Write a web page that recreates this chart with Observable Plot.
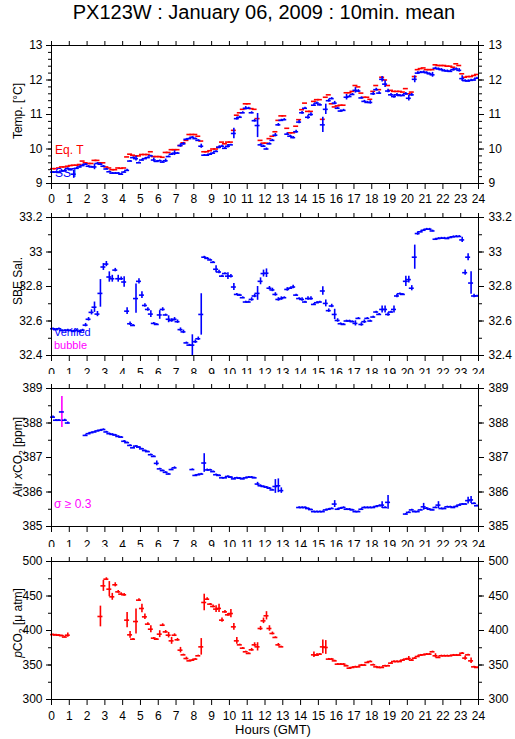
<!DOCTYPE html>
<html><head><meta charset="utf-8">
<script src="https://cdn.jsdelivr.net/npm/d3@7"></script>
<script src="https://cdn.jsdelivr.net/npm/@observablehq/plot@0.6"></script>
<style>
body{margin:0;background:#fff;font-family:"Liberation Sans",Arial,Helvetica,sans-serif;}
#wrap{position:relative;width:515px;height:739px;overflow:hidden;}
#title{position:absolute;left:0;top:2px;width:528px;text-align:center;font-size:20px;line-height:20px;color:#000;}
#xlab{position:absolute;left:0;top:723px;width:546px;text-align:center;font-size:13px;line-height:13px;color:#000;}
.panel{position:absolute;left:0;}
</style></head>
<body><div id="wrap"><div id="title">PX123W : January 06, 2009 : 10min. mean</div><div id="xlab">Hours (GMT)</div></div>
<script>
// ---- Data: 10-minute means, 6 slots per hour (rows = hours 0..23) ----
const hourTicks = d3.range(0, 25);
const sst = [
 9.33,9.33,9.32,9.36,9.37,9.43, 9.40,9.27,9.44,9.48,9.52,9.56, 9.50,9.48,9.48,9.58,9.56,9.50,
 9.42,9.34,9.30,9.30,9.30,9.27, 9.33,9.38,9.65,9.75,9.72,9.60, 9.68,9.72,9.75,9.80,9.68,9.64,
 9.66,9.62,9.66,9.78,9.85,9.88, 9.88,10.10,10.15,10.28,10.30,10.34, 10.30,10.25,10.08,9.82,9.82,9.85,
 9.88,9.93,10.05,10.08,10.02,10.08, 10.12,10.45,10.88,10.92,11.05,11.18, 11.18,11.05,10.82,10.68,10.12,10.08,
 10.00,10.15,10.25,10.40,10.70,10.83, 10.85,10.43,10.37,10.33,10.50,10.78, 11.05,11.18,10.92,11.00,11.27,11.33,
 11.28,10.70,11.15,11.40,11.46,11.33, 11.18,11.10,11.12,11.50,11.52,11.58, 11.70,11.68,11.48,11.38,11.35,11.35,
 11.60,11.72,11.62,12.02,11.88,11.68, 11.57,11.52,11.57,11.55,11.55,11.60, 11.47,11.57,12.02,12.20,12.22,12.23,
 12.21,12.18,12.15,12.34,12.32,12.30, 12.27,12.26,12.25,12.30,12.32,12.28, 12.04,11.98,11.97,11.99,12.00,12.05];
const sstSd = [
 .02,.02,.02,.02,.03,.03, .03,.12,.03,.03,.03,.02, .02,.02,.08,.03,.03,.02,
 .02,.02,.02,.02,.02,.02, .02,.03,.02,.02,.07,.02, .02,.02,.02,.02,.06,.02,
 .02,.02,.05,.02,.02,.07, .02,.05,.04,.02,.02,.02, .02,.02,.06,.02,.02,.02,
 .02,.02,.04,.03,.03,.05, .02,.15,.04,.03,.03,.05, .03,.03,.04,.35,.03,.03,
 .03,.03,.03,.05,.04,.03, .03,.04,.03,.03,.04,.05, .04,.03,.06,.05,.04,.03,
 .03,.22,.15,.04,.03,.05, .03,.03,.03,.08,.03,.03, .08,.04,.03,.03,.03,.05,
 .05,.04,.04,.08,.10,.05, .04,.05,.04,.03,.03,.04, .08,.04,.10,.04,.03,.03,
 .03,.03,.07,.03,.03,.03, .03,.03,.03,.04,.03,.05, .08,.03,.03,.03,.03,.03];
const eqT = [
 9.43,9.43,9.45,9.48,9.48,9.50, 9.52,9.53,9.53,9.55,9.65,9.60, 9.58,9.58,9.67,9.67,9.60,9.60,
 9.48,9.45,9.40,9.40,9.45,9.44, 9.45,9.77,9.85,9.82,9.80,9.80, 9.84,9.84,9.84,9.92,9.78,9.78,
 9.78,9.76,9.90,9.90,9.98,9.98, 9.98,10.10,10.18,10.25,10.42,10.42, 10.42,10.37,10.23,9.92,9.92,9.95,
 10.00,10.00,10.05,10.20,10.15,10.20, 10.20,10.54,10.98,11.05,11.15,11.31, 11.31,11.17,11.15,10.88,10.25,10.17,
 10.17,10.30,10.37,10.50,10.83,10.96, 10.96,10.60,10.47,10.47,10.66,10.85, 11.14,11.33,11.09,11.09,11.38,11.43,
 11.43,10.86,11.50,11.57,11.31,11.22, 11.25,11.27,11.27,11.63,11.63,11.67, 11.84,11.80,11.62,11.50,11.50,11.44,
 11.67,11.84,11.72,12.08,12.00,11.84, 11.70,11.67,11.67,11.67,11.65,11.75, 11.60,11.65,12.10,12.30,12.33,12.35,
 12.30,12.30,12.30,12.44,12.42,12.42, 12.42,12.40,12.40,12.37,12.47,12.42, 12.18,12.08,12.10,12.10,12.13,12.16];
const sal = [
 32.555,32.550,32.555,32.545,32.545,32.547, 32.545,32.540,32.547,32.540,32.547,32.576, 32.610,32.650,32.680,32.640,32.760,32.913,
 32.930,32.855,32.845,32.895,32.845,32.845, 32.826,32.657,32.584,32.574,32.730,32.830, 32.750,32.690,32.667,32.640,32.586,32.580,
 32.635,32.667,32.635,32.610,32.603,32.610, 32.596,32.550,32.537,32.473,32.460,32.460, 32.480,32.497,32.638,32.970,32.963,32.954,
 32.940,32.900,32.884,32.860,32.875,32.860, 32.860,32.797,32.754,32.750,32.735,32.710, 32.710,32.725,32.745,32.760,32.830,32.875,
 32.877,32.790,32.780,32.754,32.725,32.730, 32.735,32.783,32.790,32.797,32.750,32.730, 32.725,32.710,32.730,32.730,32.696,32.706,
 32.710,32.774,32.702,32.660,32.687,32.638, 32.603,32.584,32.580,32.600,32.600,32.596, 32.586,32.615,32.580,32.596,32.615,32.600,
 32.623,32.652,32.638,32.667,32.667,32.638, 32.652,32.667,32.745,32.758,32.754,32.830, 32.840,32.790,32.970,33.107,33.117,33.126,
 33.132,33.132,33.122,33.074,33.078,33.080, 33.080,33.078,33.084,33.088,33.090,33.090, 33.070,32.880,32.970,32.820,32.745,32.745];
const salSd = [
 .005,.005,.005,.005,.005,.005, .005,.005,.005,.005,.005,.01, .01,.015,.03,.015,.08,.02,
 .015,.03,.02,.01,.02,.01, .03,.02,.01,.005,.085,.015, .02,.01,.01,.02,.005,.005,
 .025,.01,.005,.02,.01,.01, .01,.01,.01,.005,.005,.06, .01,.01,.12,.005,.005,.005,
 .005,.02,.01,.005,.005,.02, .01,.02,.005,.005,.005,.005, .005,.01,.01,.04,.02,.02,
 .025,.01,.01,.01,.01,.01, .005,.01,.005,.01,.005,.005, .01,.005,.01,.01,.005,.005,
 .005,.025,.02,.01,.01,.03, .01,.005,.005,.005,.005,.005, .015,.005,.01,.01,.005,.005,
 .005,.005,.005,.02,.02,.01, .005,.02,.01,.005,.005,.03, .02,.015,.07,.01,.005,.005,
 .005,.005,.005,.005,.005,.005, .005,.005,.005,.005,.005,.005, .015,.015,.02,.065,.01,.005];
const air = [
 388.17,388.08,388.08,388.32,388.08,388.00, null,null,null,null,null,387.64, 387.69,387.72,387.74,387.77,387.79,387.81,
 387.74,387.69,387.67,387.65,387.61,387.59, 387.47,387.43,387.35,387.28,387.33,387.30, 387.25,387.20,387.17,387.08,387.03,386.83,
 386.67,386.62,386.57,386.52,386.65,386.70, null,null,null,null,null,386.65, 386.48,386.50,386.52,386.84,386.64,386.64,
 386.59,386.50,386.48,386.41,386.41,386.45, 386.43,386.38,386.41,386.40,386.38,386.41, 386.43,386.43,386.41,386.23,386.18,386.16,
 386.14,386.11,386.06,386.16,386.18,386.04, null,null,null,null,null,385.55, 385.55,385.55,385.52,385.49,385.43,385.43,
 385.43,385.43,385.48,385.50,385.52,385.65, 385.50,385.53,385.55,385.50,385.50,385.48, 385.43,385.43,385.50,385.55,385.55,385.55,
 385.55,385.58,385.60,385.62,385.55,385.70, null,null,null,null,null,385.36, 385.41,385.48,385.43,385.43,385.48,385.57,
 385.53,385.50,385.48,385.55,385.62,385.52, 385.52,385.57,385.57,385.55,385.58,385.62, 385.65,385.65,385.75,385.77,385.67,385.60];
const airSd = [
 .03,.02,.02,.45,.03,.03, 0,0,0,0,0,.02, .02,.02,.02,.02,.02,.02,
 .02,.02,.02,.02,.02,.02, .02,.02,.02,.02,.02,.02, .02,.02,.02,.02,.02,.07,
 .02,.02,.02,.02,.02,.03, 0,0,0,0,0,.02, .02,.02,.02,.27,.03,.02,
 .02,.02,.02,.02,.02,.02, .02,.02,.02,.02,.02,.02, .02,.02,.02,.05,.03,.02,
 .02,.02,.02,.20,.20,.08, 0,0,0,0,0,.02, .02,.02,.02,.02,.02,.02,
 .02,.02,.02,.02,.02,.10, .02,.02,.02,.02,.02,.02, .02,.02,.02,.02,.02,.02,
 .02,.02,.02,.10,.02,.20, 0,0,0,0,0,.02, .02,.02,.02,.02,.02,.10,
 .02,.02,.02,.02,.10,.02, .02,.02,.02,.02,.02,.02, .02,.02,.10,.10,.02,.02];
const pco2 = [
 394.0,393.5,393.2,392.5,390.5,393.2, null,null,null,null,null,null, null,null,null,null,420.3,464.7,
 474.4,459.9,448.8,466.2,456.0,452.7, 451.7,415.0,393.7,387.4,413.0,444.0, 431.9,419.8,409.2,401.9,388.9,387.4,
 394.7,407.7,398.0,393.2,385.0,393.2, 386.5,371.5,364.7,359.4,356.0,357.0, 358.5,363.3,376.3,440.6,445.4,438.2,
 434.8,431.0,432.0,415.0,427.0,422.7, 424.6,405.3,385.0,379.2,374.4,369.1, 366.7,372.0,379.2,376.3,402.9,414.0,
 421.3,402.9,395.7,389.9,379.2,376.3, null,null,null,null,null,null, null,null,null,null,364.7,364.3,
 365.7,376.3,375.4,358.5,358.5,356.0, 351.2,351.2,351.2,348.8,345.4,346.4, 347.3,347.3,349.8,349.8,353.6,355.0,
 350.2,347.3,346.4,346.4,348.8,348.8, 352.7,355.0,355.0,355.0,357.0,358.5, 359.4,357.0,359.9,362.3,364.3,364.7,
 365.7,365.7,369.1,363.3,360.9,363.3, 363.3,363.3,363.3,364.3,364.3,364.3, 367.1,360.0,364.7,356.0,347.3,346.4];
const pco2Sd = [
 1,1,1,1,1,3, 0,0,0,0,0,0, 0,0,0,0,15,8,
 2,11,5,3,2,2, 2,11,5,1,18,2, 6,4,2,5,1,1,
 5,2,2,4,5,2, 2,4,1,2,1,1, 1,1,12,12,2,1,
 2,5,6,3,2,2, 6,5,5,1,1,1, 1,2,3,6,3,4,
 6,4,2,1,2,1, 0,0,0,0,0,0, 0,0,0,0,4,2,
 1,10,10,1,1,1, 1,1,1,1,1,1, 1,1,1,1,1,1,
 1,1,1,1,1,1, 1,1,1,1,1,1, 3,1,1,1,1,1,
 1,1,1,3,1,1, 1,1,1,1,1,1, 1,3,1,4,1,1];

const tempTicks = [9,10,11,12,13], tempMinor = d3.range(9, 13.001, 0.2);
const salTicks = [32.4,32.6,32.8,33,33.2], salMinor = d3.range(32.4, 33.201, 0.1);
const airTicks = [385,386,387,388,389], airMinor = d3.range(385, 389.001, 0.5);
const pcoTicks = [300,350,400,450,500], pcoMinor = d3.range(300, 500.01, 25);

// ---- helpers ----
const slotHours = d3.range(144).map(i => (i + 0.5) / 6);
const rows = (vals, sds) => slotHours.map((h, i) => ({h, v: vals[i], s: sds ? sds[i] : 0})).filter(d => d.v != null);
const HALF = 0.14, SW = 1.6;
const BLUE = "#0000ff", RED = "#ff0000", MAG = "#ff00ff";
function crosses(data, color, sdColor, bars = true) {
  const m = [];
  if (bars) m.push(Plot.ruleX(data, {x: "h", y1: d => d.v - d.s, y2: d => d.v + d.s, stroke: sdColor || color, strokeWidth: SW}));
  m.push(Plot.ruleY(data, {y: "v", x1: d => d.h - HALF, x2: d => d.h + HALF, stroke: color, strokeWidth: SW}));
  return m;
}
const FONT = '"Liberation Sans", Arial, Helvetica, sans-serif';
function panel({top, domain, ticks, minor, marks, pad, extraBottom = 0}) {
  const svg = Plot.plot({
    width: 515, height: 172 + extraBottom,
    marginLeft: 51, marginRight: 37, marginTop: 14, marginBottom: 20 + extraBottom,
    x: {domain: [0, 24]}, y: {domain},
    style: {fontFamily: FONT, fontSize: "12px", color: "black", background: "white", overflow: "visible"},
    marks: [
      ...marks,
      Plot.frame({stroke: "black", strokeWidth: 1}),
      Plot.axisY(minor, {anchor: "left", tickSize: 3, tickFormat: () => "", label: null}),
      Plot.axisY(minor, {anchor: "right", tickSize: 3, tickFormat: () => "", label: null}),
      Plot.axisY(ticks, {anchor: "left", tickSize: 5, tickPadding: 4, label: null, tickFormat: d => String(d)}),
      Plot.axisY(ticks, {anchor: "right", tickSize: 5, tickPadding: 5, label: null, tickFormat: d => String(d)}),
      Plot.axisX(hourTicks, {anchor: "top", tickSize: 5, tickFormat: () => "", label: null}),
      Plot.axisX(hourTicks, {anchor: "bottom", tickSize: 6, tickPadding: pad, label: null, tickFormat: d => String(d)})
    ]
  });
  svg.classList.add("panel");
  svg.style.top = top + "px";
  document.getElementById("wrap").appendChild(svg);
  return svg;
}
function yLabel(svg, top, cy, parts, size = 12) {
  const t = d3.select(svg).append("text")
    .attr("transform", `translate(22,${cy - top}) rotate(-90)`)
    .attr("text-anchor", "middle").attr("font-size", size).attr("font-family", FONT).attr("fill", "black");
  parts.forEach(p => {
    const s = t.append("tspan").text(p.t);
    if (p.it) s.attr("font-style", "italic");
    if (p.sub) s.attr("dy", 3).attr("font-size", size * 0.7);
    if (p.after) s.attr("dy", -3);
  });
}
function note(svg, top, x, baseline, txt, color, size = 12) {
  d3.select(svg).append("text").attr("x", x).attr("y", baseline - top).attr("text-anchor", "start")
    .attr("font-size", size).attr("font-family", FONT).attr("fill", color).text(txt);
}

// Panel 1: temperatures
const t1 = 31;
const p1 = panel({top: t1, domain: [9, 13], ticks: tempTicks, minor: tempMinor, pad: 5,
  marks: [...crosses(rows(eqT), RED, RED, false), ...crosses(rows(sst, sstSd), BLUE)]});
yLabel(p1, t1, 111, [{t: "Temp. [°C]"}]);
note(p1, t1, 55, 154, "Eq. T", RED);
note(p1, t1, 55, 177, "SST", BLUE);

// Panel 2: salinity
const t2 = 203;
const p2 = panel({top: t2, domain: [32.4, 33.2], ticks: salTicks, minor: salMinor, pad: 7,
  marks: crosses(rows(sal, salSd), BLUE)});
yLabel(p2, t2, 281, [{t: "SBE Sal."}]);
note(p2, t2, 54, 336, "Verified", BLUE, 11);
note(p2, t2, 54, 349, "bubble", MAG, 11);

// Panel 3: air xCO2
const t3 = 374;
const airRows = rows(air, airSd);
const p3 = panel({top: t3, domain: [385, 389], ticks: airTicks, minor: airMinor, pad: 8,
  marks: [
    Plot.ruleX(airRows, {x: "h", y1: d => d.v - d.s, y2: d => d.v + d.s, stroke: d => d.s >= 0.3 ? MAG : BLUE, strokeWidth: SW}),
    Plot.ruleY(airRows, {y: "v", x1: d => d.h - HALF, x2: d => d.h + HALF, stroke: BLUE, strokeWidth: SW})
  ]});
yLabel(p3, t3, 457, [{t: "Air "}, {t: "x", it: true}, {t: "CO"}, {t: "2", sub: true}, {t: " [ppm]", after: true}]);
note(p3, t3, 54, 508, "σ ≥ 0.3", MAG);

// Panel 4: pCO2
const t4 = 547;
const p4 = panel({top: t4, domain: [300, 500], ticks: pcoTicks, minor: pcoMinor, pad: 6,
  marks: crosses(rows(pco2, pco2Sd), RED)});
yLabel(p4, t4, 623, [{t: "p", it: true}, {t: "CO"}, {t: "2", sub: true}, {t: " [μ atm]", after: true}]);
</script>
</body></html>
